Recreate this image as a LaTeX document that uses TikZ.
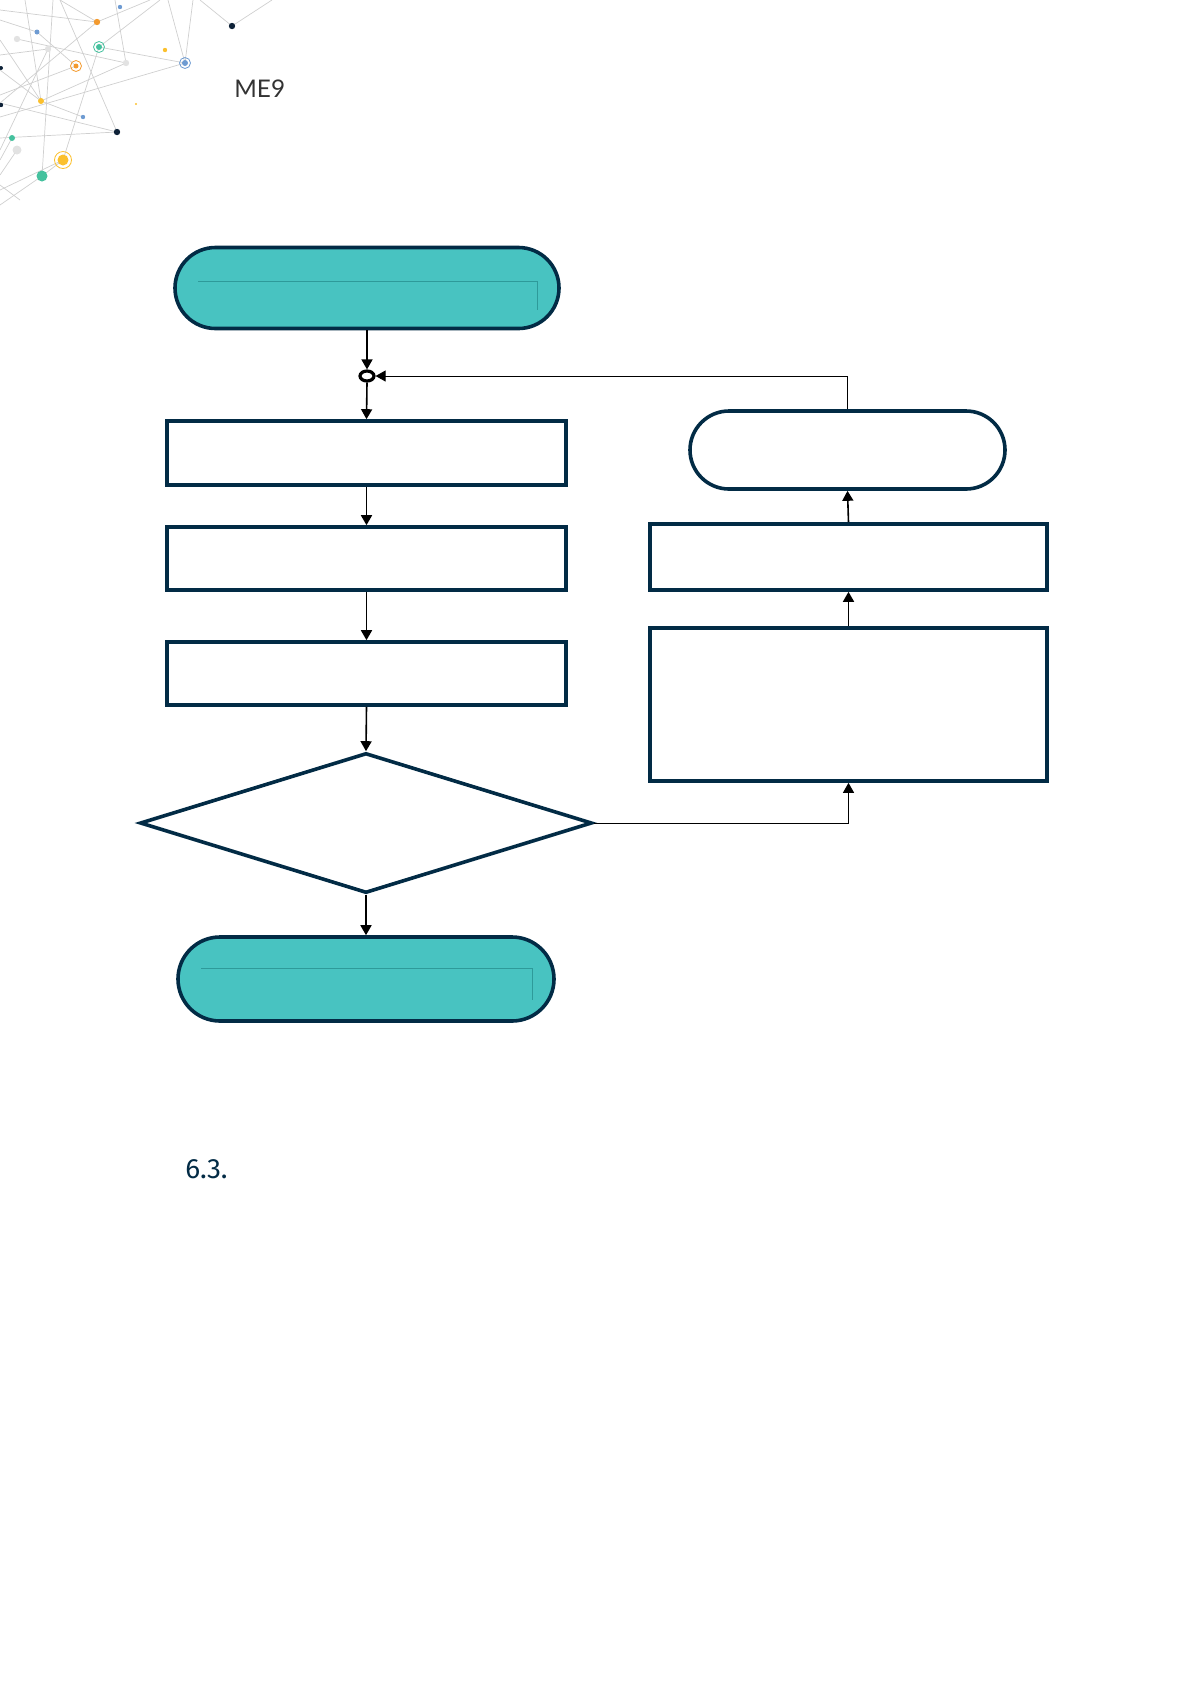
\documentclass[tikz,border=0pt]{standalone}
\usepackage{fontspec}
\setmainfont{Lato}
\newfontfamily\secfont{Fira Sans}
\usetikzlibrary{shapes.misc,shapes.geometric,arrows.meta}
\definecolor{navy}{HTML}{022B45}
\definecolor{tealfill}{HTML}{48C3C1}
\definecolor{tealline}{HTML}{2E9A9A}
\definecolor{netgray}{HTML}{CFCFCF}
\definecolor{dotorange}{HTML}{F39A2E}
\definecolor{dotblue}{HTML}{6E9BD2}
\definecolor{dotteal}{HTML}{45C19E}
\definecolor{dotyellow}{HTML}{FBC02D}
\definecolor{dotgray}{HTML}{E2E2E2}
\definecolor{dotnavy}{HTML}{0E2238}
\tikzset{
  x=0.5bp, y=-0.5bp,
  box/.style={draw=navy, line width=1.8bp, fill=white, rectangle, inner sep=0pt},
  term/.style={draw=navy, line width=1.8bp, rounded rectangle, rounded rectangle arc length=180, inner sep=0pt},
  dec/.style={draw=navy, line width=1.8bp, fill=white, diamond, inner sep=0pt},
  flow/.style={draw=black, line width=0.8bp, -{Triangle[length=5bp,width=5.5bp]}},
  thinflow/.style={draw=black, line width=0.5bp, -{Triangle[length=5bp,width=5.5bp]}},
  inner/.style={draw=tealline, line width=0.5bp},
  net/.style={draw=netgray, line width=0.35bp},
}
\begin{document}
\begin{tikzpicture}
\useasboundingbox (0,0) rectangle (1190,1684);
% ---- network decoration ----
\foreach \a/\b in {
  {(0,10)}/{(97,22)}, {(60,0)}/{(97,22)}, {(97,22)}/{(0,103)}, {(97,22)}/{(150,0)},
  {(99,47)}/{(185,63)}, {(185,63)}/{(0,117)}, {(185,63)}/{(193,0)}, {(185,63)}/{(168,0)},
  {(99,47)}/{(160,0)}, {(99,47)}/{(63,160)}, {(117,132)}/{(60,0)}, {(117,132)}/{(0,103)},
  {(63,160)}/{(0,190)}, {(63,160)}/{(42,176)}, {(42,176)}/{(0,205)}, {(42,176)}/{(53,0)},
  {(232,26)}/{(272,0)}, {(232,26)}/{(200,0)}, {(0,40)}/{(41,101)}, {(41,101)}/{(0,70)},
  {(41,101)}/{(126,63)}, {(126,63)}/{(115,0)}, {(48,49)}/{(0,150)}, {(17,39)}/{(126,63)},
  {(25,0)}/{(41,101)}, {(0,138)}/{(117,132)}, {(12,138)}/{(0,160)}, {(0,175)}/{(17,150)},
  {(37,32)}/{(76,66)}, {(76,66)}/{(0,95)}, {(0,55)}/{(48,49)}, {(0,20)}/{(37,32)},
  {(20,200)}/{(0,185)}, {(83,117)}/{(41,101)}}
  \draw[net] \a -- \b;
\foreach \p/\c/\r in {
  {(97,22)}/dotorange/3.2, {(120,7)}/dotblue/2.2, {(232,26)}/dotnavy/3.2, {(37,32)}/dotblue/2.5,
  {(17,39)}/dotgray/3.2, {(48,49)}/dotgray/3.2, {(99,47)}/dotteal/3, {(165,50)}/dotyellow/2.2,
  {(185,63)}/dotblue/3, {(126,63)}/dotgray/3.2, {(76,66)}/dotorange/2.5, {(1,68)}/dotnavy/2,
  {(41,101)}/dotyellow/3, {(1,105)}/dotnavy/2.2, {(136,104)}/dotyellow/1.2, {(83,117)}/dotblue/2.2,
  {(117,132)}/dotnavy/3.2, {(12,138)}/dotteal/3, {(17,150)}/dotgray/4.5, {(63,160)}/dotyellow/5.5,
  {(42,176)}/dotteal/5.5}
  \fill[\c] \p circle[radius=\r];
\draw[dotteal, line width=0.4bp] (99,47) circle[radius=5.5];
\draw[dotblue, line width=0.4bp] (185,63) circle[radius=5.5];
\draw[dotorange, line width=0.4bp] (76,66) circle[radius=5.5];
\draw[dotyellow, line width=0.4bp] (63,160) circle[radius=8.5];
% ---- header text ----
\node[anchor=base west, inner sep=0pt, text=black!80, font=\fontsize{12.2}{14}\selectfont] (hdr) at (234,97) {ME9};
\node[anchor=base west, inner sep=0pt, text=navy, font=\secfont\fontsize{14}{16}\selectfont] (sec) at (185,1178) {6.3.};
% ---- flowchart nodes ----
\node[term, fill=tealfill, minimum width=192bp, minimum height=40.5bp] (start) at (367,288) {};
\node[draw=black, line width=1.6bp, ellipse, fill=white, minimum width=7bp, minimum height=5bp, inner sep=0pt] (junc) at (367,376) {};
\node[box, minimum width=199.5bp, minimum height=32bp] (b1) at (366.5,453) {};
\node[box, minimum width=199.5bp, minimum height=31.5bp] (b2) at (366.5,558.5) {};
\node[box, minimum width=199.5bp, minimum height=31.5bp] (b3) at (366.5,673.5) {};
\node[dec, minimum width=226bp, minimum height=70bp] (dec1) at (366,823) {};
\node[term, fill=tealfill, minimum width=188bp, minimum height=42bp] (stop) at (366,979) {};
\node[term, fill=white, minimum width=157.5bp, minimum height=39bp] (rt) at (847.5,450) {};
\node[box, minimum width=198.5bp, minimum height=33bp] (r1) at (848.5,557) {};
\node[box, minimum width=198.5bp, minimum height=76.5bp] (r2) at (848.5,704.5) {};
% inner thin lines in terminals
\draw[inner] (198,281) -- (537,281) -- (537,310);
\draw[inner] (201,968) -- (532,968) -- (532,1000);
% ---- connectors ----
\draw[flow] (start.south) -- (junc.north);
\draw[flow] (junc.south) -- (b1.north);
\draw[flow] (b1.south) -- (b2.north);
\draw[flow] (b2.south) -- (b3.north);
\draw[flow] (b3.south) -- (dec1.north);
\draw[flow] (dec1.south) -- (stop.north);
\draw[thinflow] (dec1.east) -| (r2.south);
\draw[flow] (r2.north) -- (r1.south);
\draw[flow] (r1.north) -- (rt.south);
\draw[thinflow] (rt.north) |- (junc.east);
\end{tikzpicture}
\end{document}
